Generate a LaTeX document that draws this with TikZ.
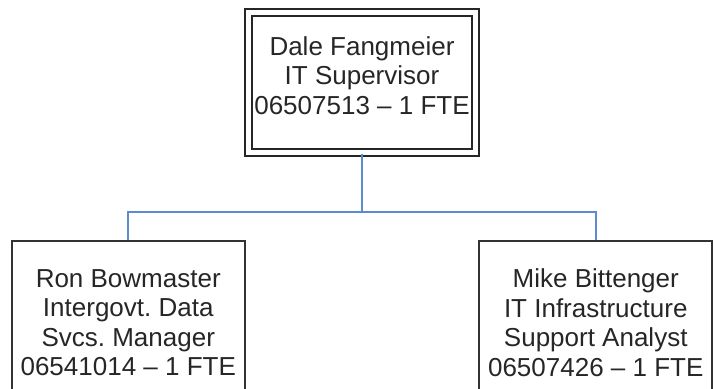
\documentclass[tikz,border=0pt]{standalone}
\usepackage{fontspec}
\setmainfont{Liberation Sans}
\usepackage{tikz}
\usetikzlibrary{shapes,trees}

\definecolor{linkblue}{RGB}{92,140,206}

\begin{document}
\begin{tikzpicture}[x=1pt,y=1pt,level distance=240pt,
  level 1/.style={sibling distance=467.5pt},
  edge from parent/.style={draw=linkblue,line width=2pt},
  edge from parent path={(\tikzparentnode.south) |- ([yshift=28pt]\tikzchildnode.north) -- (\tikzchildnode.north)}]
  \tikzstyle{card} = [rectangle,align=center,text=black!85,font=\fontsize{26}{29.5}\selectfont\frenchspacing]
  \tikzstyle{boss} = [card,draw=black!85,double,double distance=4.5pt,line width=2pt,minimum width=227pt,minimum height=140pt,text depth=14pt]
  \tikzstyle{staff} = [card,draw=black!80,line width=2pt,minimum width=233pt,minimum height=163pt]
  \useasboundingbox (0,0) rectangle (714,-388);
  \clip (0,0) rectangle (714,-388);
  \node (dale) [boss] at (362,-82.5) {Dale Fangmeier\\IT Supervisor\\06507513 \textendash{} 1 FTE}
  {
  child {node (ron) [staff] {Ron Bowmaster\\Intergovt. Data\\Svcs. Manager\\06541014 \textendash{} 1 FTE}}
  child {node (mike) [staff] {Mike Bittenger\\IT Infrastructure\\Support Analyst\\06507426 \textendash{} 1 FTE}}
  };
\end{tikzpicture}
\end{document}
